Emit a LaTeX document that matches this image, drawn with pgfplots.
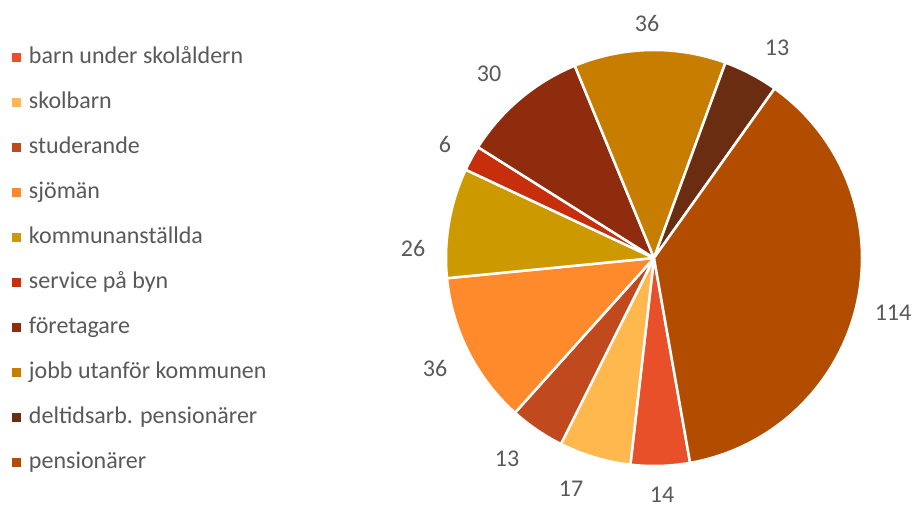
\documentclass[border=0pt]{standalone}
\usepackage{pgfplots}
\pgfplotsset{compat=1.18}
\usepackage{fontspec}
\setmainfont{Carlito}
\definecolor{txt}{HTML}{595959}
\definecolor{cbarn}{HTML}{E8502A}
\definecolor{cskol}{HTML}{FFB84D}
\definecolor{cstud}{HTML}{C04A1E}
\definecolor{csjo}{HTML}{FF8A2B}
\definecolor{ckomm}{HTML}{CC9A00}
\definecolor{cserv}{HTML}{C62E0C}
\definecolor{cfor}{HTML}{902C0E}
\definecolor{cjobb}{HTML}{C77E00}
\definecolor{cdelt}{HTML}{6B2D12}
\definecolor{cpens}{HTML}{B24D00}
% pie geometry (axis units = pt)
\def\cx{654}\def\cy{250}\def\rad{208}\def\total{305}\def\startang{-80}
\gdef\cum{0}
\newcommand{\slice}[3]{% value, colour, legend text
  \pgfmathsetmacro\aA{\startang-(\cum/\total)*360}%
  \pgfmathsetmacro\aB{\startang-((\cum+#1)/\total)*360}%
  \edef\doplot{\noexpand\addplot[fill=#2, draw=white, line width=2.5pt, line join=round,
     domain=\aB:\aA, samples=80, variable=\noexpand\t]
     ({\cx+\rad*cos(\noexpand\t)},{\cy+\rad*sin(\noexpand\t)}) -- (axis cs:\cx,\cy) -- cycle;}%
  \doplot
  \addlegendentry{#3}%
  \pgfmathparse{\cum+#1}\xdef\cum{\pgfmathresult}%
}
\begin{document}
\begin{tikzpicture}
\begin{axis}[x=1pt, y=1pt, xmin=0, xmax=915, ymin=0, ymax=508,
  hide axis, clip=false,
  legend style={at={(axis cs:12,461)}, anchor=north west, draw=none, fill=none,
    inner sep=0pt, outer sep=0pt, font=\fontsize{24}{28}\selectfont, text=txt,
    row sep=23pt, column sep=0pt,
    nodes={inner sep=0pt, text height=17pt, text depth=5pt, anchor=west}},
  /tikz/every odd column/.append style={column sep=8pt},
  legend cell align=left,
  legend image code/.code={\fill[#1,draw=none] (0pt,-4.5pt) rectangle (9pt,4.5pt);},
]
\coordinate (BBSW) at (axis cs:0,0);
\coordinate (BBNE) at (axis cs:915,508);
\slice{14}{cbarn}{barn under skolåldern}
\slice{17}{cskol}{skolbarn}
\slice{13}{cstud}{studerande}
\slice{36}{csjo}{sjömän}
\slice{26}{ckomm}{kommunanställda}
\slice{6}{cserv}{service på byn}
\slice{30}{cfor}{företagare}
\slice{36}{cjobb}{jobb utanför kommunen}
\slice{13}{cdelt}{deltidsarb. pensionärer}
\slice{114}{cpens}{pensionärer}
\begin{scope}[every node/.style={text=txt, font=\fontsize{24}{28}\selectfont, inner sep=0pt}]
\node at (axis cs:647,485) {36};
\node at (axis cs:777,460) {13};
\node at (axis cs:489,434) {30};
\node at (axis cs:445,364) {6};
\node at (axis cs:413,260) {26};
\node at (axis cs:435,140) {36};
\node at (axis cs:507,49) {13};
\node at (axis cs:571,19) {17};
\node at (axis cs:662,13) {14};
\node at (axis cs:893,195) {114};
\end{scope}
\end{axis}
\pgfresetboundingbox
\useasboundingbox (BBSW) rectangle (BBNE);
\end{tikzpicture}
\end{document}
